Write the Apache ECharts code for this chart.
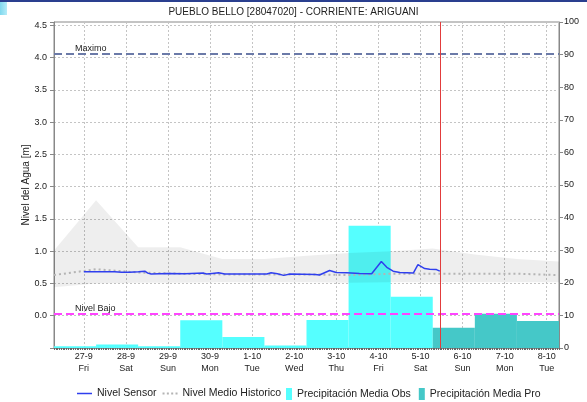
<!DOCTYPE html>
<html>
<head>
<meta charset="utf-8">
<script src="https://cdn.jsdelivr.net/npm/echarts@6/dist/echarts.min.js"></script>
<style>
html, body { margin: 0; padding: 0; background: #fff; }
#chart { width: 587px; height: 402px; }
</style>
</head>
<body>
<div id="chart"></div>
<script>
// eje x en dias desde 27-9 00:00
var dayLabels = ['27-9', '28-9', '29-9', '30-9', '1-10', '2-10', '3-10', '4-10', '5-10', '6-10', '7-10', '8-10'];
var dayNames = ['Fri', 'Sat', 'Sun', 'Mon', 'Tue', 'Wed', 'Thu', 'Fri', 'Sat', 'Sun', 'Mon', 'Tue'];

// dia hidrologico: de 07:00 a 07:00
var HYDRO_OFFSET = 7 / 24;

// precipitacion media [mm] por dia hidrologico (dia de inicio)
var obsStart = [-1, 0, 1, 2, 3, 4, 5, 6, 7];
var obsValues = [0.5, 1.1, 0.5, 8.5, 3.4, 0.8, 8.6, 37.5, 15.7];
var proStart = [8, 9, 10];
var proValues = [6.2, 10.5, 8.3];

// nivel historico [m]: banda min-max y medio, puntos diarios a las 07:00
var histDays = [-1, 0, 1, 2, 3, 4, 5, 6, 7, 8, 9, 10, 11];
var histMax = [1.01, 1.79, 1.06, 1.06, 0.88, 0.88, 0.93, 0.97, 1.0, 1.04, 0.95, 0.88, 0.84];
var histMin = [0.44, 0.5, 0.51, 0.51, 0.52, 0.52, 0.52, 0.51, 0.52, 0.52, 0.52, 0.52, 0.52];
var histMean = [0.63, 0.72, 0.67, 0.65, 0.64, 0.64, 0.64, 0.63, 0.65, 0.65, 0.65, 0.65, 0.63];

// nivel sensor [m]
var sensorT = [0, 0.73, 0.9, 1.09, 1.3, 1.45, 1.52, 1.6, 2.0, 2.4, 2.85, 2.92, 3.05, 3.2, 3.35, 4.35, 4.45, 4.6, 4.75, 4.9,
  5.5, 5.6, 5.84, 6.0, 6.25, 6.55, 6.84, 7.07, 7.2, 7.35, 7.51, 7.83, 7.94, 8.1, 8.22, 8.38, 8.46];
var sensorV = [0.68, 0.68, 0.675, 0.675, 0.68, 0.69, 0.66, 0.645, 0.655, 0.65, 0.66, 0.645, 0.655, 0.665, 0.645, 0.645, 0.665, 0.65, 0.625, 0.645,
  0.64, 0.63, 0.70, 0.67, 0.665, 0.655, 0.65, 0.84, 0.75, 0.69, 0.67, 0.66, 0.79, 0.73, 0.72, 0.715, 0.69];

var levelMax = 4.06;
var levelLow = 0.03;
var nowDay = 8.485;

var FONT = 'Liberation Sans, Arial, sans-serif';

function precipSeries(name, starts, values, color) {
  return {
    type: 'custom',
    name: name,
    yAxisIndex: 1,
    z: 1,
    silent: true,
    itemStyle: { color: color },
    encode: { x: [0, 1], y: 2 },
    data: starts.map(function (s, i) {
      return [s + HYDRO_OFFSET, s + 1 + HYDRO_OFFSET, values[i]];
    }),
    renderItem: function (params, api) {
      var p0 = api.coord([api.value(0), api.value(2)]);
      var p1 = api.coord([api.value(1), 0]);
      return {
        type: 'rect',
        shape: { x: p0[0], y: p0[1], width: p1[0] - p0[0], height: p1[1] - p0[1] },
        style: { fill: color }
      };
    }
  };
}

var myChart = echarts.init(document.getElementById('chart'));

var legendText = { fontSize: 10.5, color: '#222', fontFamily: FONT };

var option = {
  animation: false,
  backgroundColor: '#fff',
  textStyle: { fontFamily: FONT },
  title: {
    text: 'PUEBLO BELLO [28047020] - CORRIENTE: ARIGUANI',
    left: 'center',
    top: 2,
    textStyle: { fontSize: 10, fontWeight: 'normal', color: '#222', fontFamily: FONT }
  },
  graphic: [
    { type: 'rect', shape: { x: 0, y: 0, width: 587, height: 2 }, style: { fill: '#2a3f8f' }, silent: true },
    {
      type: 'rect', shape: { x: 0, y: 2, width: 7, height: 13 }, silent: true,
      style: { fill: new echarts.graphic.LinearGradient(0, 0, 1, 0, [{ offset: 0, color: '#7fd8ee' }, { offset: 1, color: '#b6ecf8' }]) }
    }
  ],
  legend: [
    {
      left: 77,
      top: 388,
      padding: 0,
      itemWidth: 15,
      itemHeight: 12,
      itemGap: 6,
      textStyle: legendText,
      data: [
        { name: 'Nivel Sensor', icon: 'path://M0,0H15V1.5H0Z' },
        { name: 'Nivel Medio Historico', icon: 'path://M0,0H2V2H0ZM4.3,0H6.3V2H4.3ZM8.6,0H10.6V2H8.6ZM12.9,0H14.9V2H12.9Z' }
      ]
    },
    {
      left: 286,
      top: 388,
      padding: 0,
      itemWidth: 6,
      itemHeight: 12,
      itemGap: 8,
      textStyle: legendText,
      data: [
        { name: 'Precipitación Media Obs', icon: 'rect' },
        { name: 'Precipitación Media Pro', icon: 'rect' }
      ]
    }
  ],
  grid: {
    left: 54, right: 28, top: 22, bottom: 54,
    show: true, borderColor: '#888', borderWidth: 1, backgroundColor: 'transparent'
  },
  xAxis: {
    type: 'value',
    min: -1 + HYDRO_OFFSET,
    max: 11 + HYDRO_OFFSET,
    splitNumber: 12,
    minInterval: 1,
    maxInterval: 1,
    axisLine: { onZero: false, lineStyle: { color: '#888' } },
    axisTick: { show: true, length: 2, lineStyle: { color: '#666' } },
    minorTick: { show: true, splitNumber: 24, length: 2, lineStyle: { color: '#666' } },
    splitLine: { show: true, lineStyle: { color: '#c4c4c4', type: [2, 2] } },
    axisLabel: {
      fontSize: 9, color: '#222', margin: 3, lineHeight: 11.6,
      showMinLabel: true, showMaxLabel: true,
      formatter: function (v) {
        var k = Math.round(v);
        if (Math.abs(v - k) > 1e-6 || k < 0 || k >= dayLabels.length) return '';
        return dayLabels[k] + '\n' + dayNames[k];
      }
    }
  },
  yAxis: [
    {
      type: 'value',
      min: -0.5,
      max: 4.55,
      interval: 0.5,
      name: 'Nivel del Agua [m]',
      nameLocation: 'middle',
      nameGap: 23,
      nameMoveOverlap: false,
      nameTextStyle: { fontSize: 10, color: '#222' },
      axisLine: { show: true, onZero: false, lineStyle: { color: '#888' } },
      axisTick: { show: true, length: 4, lineStyle: { color: '#888' } },
      splitLine: { show: true, lineStyle: { color: '#c4c4c4', type: [2, 2] } },
      axisLabel: {
        fontSize: 9, color: '#222', margin: 7,
        formatter: function (v) {
          if (v < 0 || Math.abs(v * 2 - Math.round(v * 2)) > 1e-6) return '';
          return v.toFixed(1);
        }
      }
    },
    {
      type: 'value',
      min: 0,
      max: 100,
      interval: 10,
      position: 'right',
      axisLine: { show: true, onZero: false, lineStyle: { color: '#888' } },
      axisTick: { show: true, length: 4, lineStyle: { color: '#888' } },
      splitLine: { show: false },
      axisLabel: { fontSize: 9, color: '#222', margin: 5 }
    }
  ],
  series: [
    precipSeries('Precipitación Media Obs', obsStart, obsValues, '#55ffff'),
    precipSeries('Precipitación Media Pro', proStart, proValues, '#45c8c8'),
    {
      type: 'custom',
      name: 'Rango Historico',
      silent: true,
      z: 2,
      data: [[histDays[0] + HYDRO_OFFSET, histMax[0]]],
      renderItem: function (params, api) {
        var pts = [];
        var i;
        for (i = 0; i < histDays.length; i++) pts.push(api.coord([histDays[i] + HYDRO_OFFSET, histMax[i]]));
        for (i = histDays.length - 1; i >= 0; i--) pts.push(api.coord([histDays[i] + HYDRO_OFFSET, histMin[i]]));
        return { type: 'polygon', shape: { points: pts }, style: { fill: 'rgba(0,0,0,0.065)' } };
      }
    },
    {
      type: 'line',
      name: 'Nivel Medio Historico',
      symbol: 'none',
      z: 3,
      itemStyle: { color: '#b4b4b4' },
      lineStyle: { color: '#b4b4b4', width: 2, type: [2, 3] },
      data: histDays.map(function (d, i) { return [d + HYDRO_OFFSET, histMean[i]]; })
    },
    {
      type: 'line',
      name: 'Nivel Sensor',
      symbol: 'none',
      z: 4,
      itemStyle: { color: '#2f3fee' },
      lineStyle: { color: '#2f3fee', width: 1.5 },
      data: sensorT.map(function (t, i) { return [t, sensorV[i]]; }),
      markLine: {
        symbol: 'none',
        silent: true,
        data: [
          {
            yAxis: levelMax,
            lineStyle: { color: '#6b7aa8', type: [8, 4], width: 2 },
            label: { show: true, formatter: 'Maximo', position: 'insideStartTop', distance: [21, 1], fontSize: 9, color: '#222' }
          },
          {
            yAxis: levelLow,
            lineStyle: { color: '#ff44ff', type: [8, 4], width: 2 },
            label: { show: true, formatter: 'Nivel Bajo', position: 'insideStartTop', distance: [21, 1], fontSize: 9, color: '#222' }
          },
          {
            xAxis: nowDay,
            lineStyle: { color: '#e23c3c', type: 'solid', width: 1 },
            label: { show: false }
          }
        ]
      }
    }
  ]
};

myChart.setOption(option);
window.addEventListener('resize', function () {
  myChart.resize();
});
</script>
</body>
</html>
